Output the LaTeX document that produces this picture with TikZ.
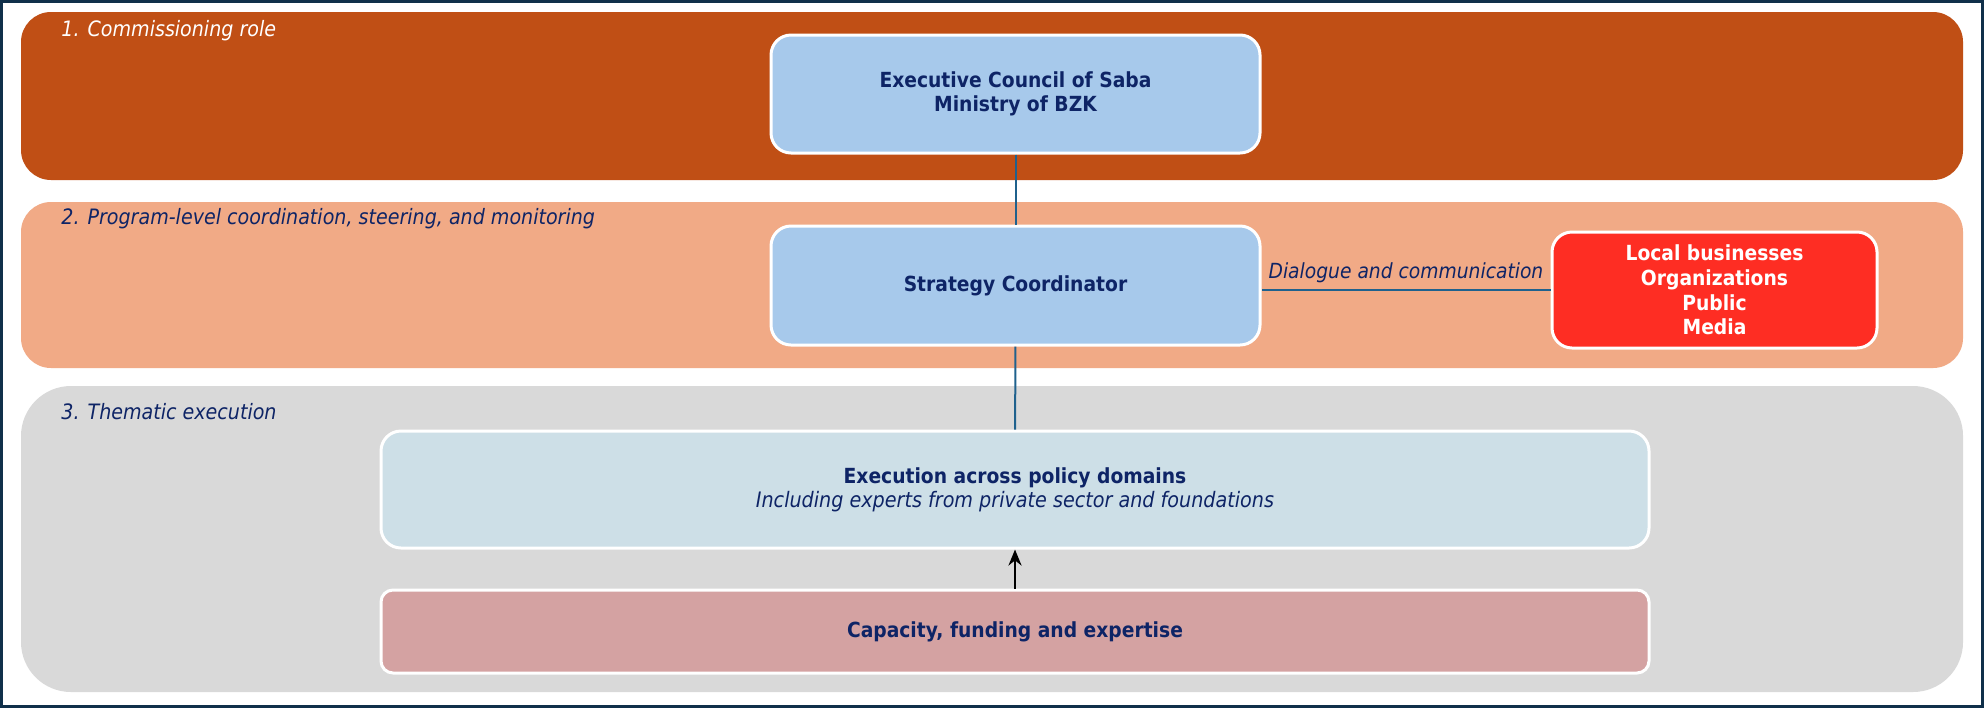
\documentclass[tikz,border=0pt]{standalone}
\usepackage{fontspec}
\setmainfont{DejaVu Sans Condensed}
\usetikzlibrary{arrows.meta}

\definecolor{frameblue}{HTML}{10304A}
\definecolor{bandone}{HTML}{C04F15}
\definecolor{bandtwo}{HTML}{F1AA86}
\definecolor{bandthree}{HTML}{D9D9D9}
\definecolor{boxblue}{HTML}{A7C9EB}
\definecolor{boxred}{HTML}{FE2D23}
\definecolor{boxpale}{HTML}{CDDFE7}
\definecolor{boxrose}{HTML}{D4A2A2}
\definecolor{navy}{HTML}{0E2466}
\definecolor{linkblue}{HTML}{1F618D}

\begin{document}
\begin{tikzpicture}[x=0.5pt, y=-0.5pt, >={Stealth[length=8pt, width=6.5pt]},
    band/.style={inner sep=0pt, rounded corners=15pt},
    box/.style={draw=white, line width=1.5pt, rounded corners=10pt, inner sep=0pt,
      align=center, text=navy, font=\fontsize{10.4}{12}\selectfont\bfseries},
    phase/.style={anchor=west, inner sep=0pt, text=navy,
      font=\fontsize{10.6}{12}\selectfont\itshape},
    link/.style={draw=linkblue, line width=1pt}]
    \useasboundingbox (0,0) rectangle (1984,708);
    \fill[white] (0,0) rectangle (1984,708);
    \draw[frameblue, line width=1.5pt] (1.5,1.5) rectangle (1982.5,706.5);

    % the three layers
    \node[band, fill=bandone, minimum width=971pt, minimum height=84pt] (commission) at (992,96) {};
    \node[band, fill=bandtwo, minimum width=971pt, minimum height=83pt] (steering) at (992,285) {};
    \node[band, fill=bandthree, rounded corners=25pt, minimum width=971pt, minimum height=153pt] (thematic) at (992,539) {};

    \node[phase, text=white] (lbl1) at (61,31) {1. Commissioning role};
    \node[phase] (lbl2) at (61,219) {2. Program-level coordination, steering, and monitoring};
    \node[phase] (lbl3) at (61,412) {3. Thematic execution};

    % boxes
    \node[box, fill=boxblue, minimum width=244.5pt, minimum height=59pt] (council) at (1015.5,94)
        {Executive Council of Saba\\Ministry of BZK};
    \node[box, fill=boxblue, minimum width=244.5pt, minimum height=59.5pt] (coordinator) at (1015.5,285.5)
        {Strategy Coordinator};
    \node[box, fill=boxred, text=white, minimum width=162.5pt, minimum height=58pt,
        font=\fontsize{10.4}{12.3}\selectfont\bfseries] (partners) at (1714.5,290)
        {Local businesses\\Organizations\\Public\\Media};
    \node[box, fill=boxpale, minimum width=634pt, minimum height=58.5pt] (execution) at (1015,489.5)
        {Execution across policy domains\\{\mdseries\itshape\fontsize{10.65}{12}\selectfont Including experts from private sector and foundations}};
    \node[box, fill=boxrose, rounded corners=6pt, minimum width=634pt, minimum height=41.5pt] (capacity) at (1015,631.5)
        {Capacity, funding and expertise};

    % connectors
    \draw[link] (council) -- (coordinator);
    \draw[link] (coordinator) -- (execution);
    \draw[link] (partners.west) -- node[above, text=navy, font=\fontsize{10.4}{12}\selectfont\itshape]
        {Dialogue and communication} (partners.west -| coordinator.east);
    \draw[->, line width=1.3pt] (capacity) -- (execution);
\end{tikzpicture}
\end{document}
